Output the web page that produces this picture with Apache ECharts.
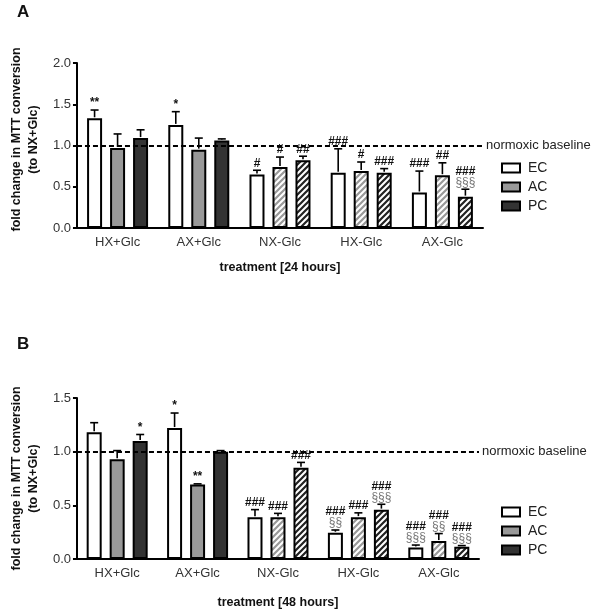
<!DOCTYPE html>
<html><head><meta charset="utf-8">
<script src="https://cdn.jsdelivr.net/npm/echarts@6/dist/echarts.min.js"></script>
<style>html,body{margin:0;padding:0;background:#fff}#c{width:600px;height:614px}</style>
</head><body><div id="c"></div>
<script>
// ---------- data ----------
const categories = ['HX+Glc','AX+Glc','NX-Glc','HX-Glc','AX-Glc'];
const seriesNames = ['EC','AC','PC'];
// Panel A (24 hours)
const A_EC = [1.33, 1.25, 0.65, 0.67, 0.43];
const A_EC_err = [0.10, 0.16, 0.05, 0.29, 0.26];
const A_AC = [0.97, 0.95, 0.74, 0.69, 0.64];
const A_AC_err = [0.17, 0.14, 0.12, 0.11, 0.15];
const A_PC = [1.09, 1.06, 0.82, 0.67, 0.38];
const A_PC_err = [0.10, 0.02, 0.05, 0.05, 0.09];
const A_EC_sig = ['**', '*', '#', '###', '###'];
const A_AC_sig = ['', '', '#', '#', '##'];
const A_PC_sig = ['', '', '##', '###', '###\n§§§'];
// Panel B (48 hours)
const B_EC = [1.18, 1.22, 0.39, 0.245, 0.108];
const B_EC_err = [0.09, 0.14, 0.07, 0.025, 0.022];
const B_AC = [0.93, 0.695, 0.39, 0.39, 0.167];
const B_AC_err = [0.08, 0.005, 0.035, 0.04, 0.07];
const B_PC = [1.10, 1.00, 0.85, 0.46, 0.115];
const B_PC_err = [0.06, 0.01, 0.05, 0.05, 0.01];
const B_EC_sig = ['', '*', '###', '###\n§§', '###\n§§§'];
const B_AC_sig = ['', '**', '###', '###', '###\n§§'];
const B_PC_sig = ['*', '', '###', '###\n§§§', '###\n§§§'];
const yTicksA = {min: 0, max: 2.0, interval: 0.5};
const yTicksB = {min: 0, max: 1.5, interval: 0.5};
const hatchedFrom = 2; // -Glc conditions drawn hatched
const baseline = 1.0;

// ---------- styling ----------
const FONT = 'Liberation Sans, Arial, sans-serif';
const BAR_W = 15, STEP = 23;
const fills = ['#ffffff', '#999999', '#333333'];

function hatch(bg, fg, lw) {
  const c = document.createElement('canvas');
  c.width = 6; c.height = 6;
  const g = c.getContext('2d');
  g.fillStyle = bg; g.fillRect(0, 0, 6, 6);
  g.strokeStyle = fg; g.lineWidth = lw; g.lineCap = 'square';
  g.beginPath();
  g.moveTo(0, 6); g.lineTo(6, 0);
  g.moveTo(-3, 3); g.lineTo(3, -3);
  g.moveTo(3, 9); g.lineTo(9, 3);
  g.stroke();
  return c;
}
const hatchAC = hatch('#ffffff', '#999999', 2.2);
const hatchPC = hatch('#ffffff', '#222222', 2.2);

function barData(vals, k) {
  return vals.map((v, i) => {
    if (i >= hatchedFrom && k > 0) {
      return {value: v, itemStyle: {color: {image: k === 1 ? hatchAC : hatchPC, repeat: 'repeat'}}};
    }
    return v;
  });
}

function errSeries(gridIdx, vals, errs, sigs, k) {
  return {
    type: 'custom', xAxisIndex: gridIdx, yAxisIndex: gridIdx, z: 5, silent: true,
    encode: {x: 0, y: 1},
    data: vals.map((v, i) => [i, v, errs[i]]),
    renderItem: function (params, api) {
      const ci = api.value(0), v = api.value(1), e = api.value(2);
      const p0 = api.coord([ci, v]);
      const p1 = api.coord([ci, v + e]);
      const x = p0[0] + (k - 1) * STEP;
      const ch = [];
      if (e > 0) {
        ch.push({type: 'line', shape: {x1: x, y1: p0[1] - 1, x2: x, y2: p1[1]}, style: {stroke: '#000', lineWidth: 1.6}});
        ch.push({type: 'line', shape: {x1: x - 4, y1: p1[1], x2: x + 4, y2: p1[1]}, style: {stroke: '#000', lineWidth: 1.6}});
      }
      const sig = sigs[params.dataIndex];
      if (sig) {
        const parts = sig.split('\n');
        let y = p1[1] - 1;
        for (let j = parts.length - 1; j >= 0; j--) {
          const isSec = parts[j].indexOf('§') >= 0;
          ch.push({type: 'text', style: {text: parts[j], x: x, y: y, align: 'center', verticalAlign: 'bottom',
            font: (isSec ? '' : 'bold ') + '12px ' + FONT, fill: isSec ? '#777' : '#111'}});
          y -= 11;
        }
      }
      return {type: 'group', children: ch};
    }
  };
}

function barSeries(gridIdx, vals, k, withLine) {
  const s = {
    name: seriesNames[k], type: 'bar', xAxisIndex: gridIdx, yAxisIndex: gridIdx,
    barWidth: BAR_W, barGap: ((STEP - BAR_W) / BAR_W * 100).toFixed(1) + '%',
    itemStyle: {color: fills[k], borderColor: '#000', borderWidth: 2},
    data: barData(vals, k)
  };
  if (withLine) {
    s.markLine = {
      silent: true, symbol: ['none', 'none'], animation: false,
      lineStyle: {type: [5, 3], width: 2, color: '#000'},
      label: {show: true, position: 'end', formatter: 'normoxic baseline', fontSize: 13, color: '#222', fontFamily: FONT, distance: 3},
      data: [{yAxis: baseline}]
    };
  }
  return s;
}

function xAxis(gridIdx, name, gap) {
  return {
    type: 'category', gridIndex: gridIdx, data: categories,
    name: name, nameLocation: 'middle', nameGap: gap,
    nameTextStyle: {fontSize: 12.5, fontWeight: 'bold', color: '#111', fontFamily: FONT},
    axisLine: {lineStyle: {color: '#000', width: 2}},
    axisTick: {alignWithLabel: true, length: 4, lineStyle: {color: '#000', width: 2}},
    axisLabel: {fontSize: 13, color: '#333', margin: 8, fontFamily: FONT}
  };
}
function yAxis(gridIdx, t, shift) {
  return {
    type: 'value', gridIndex: gridIdx, min: t.min, max: t.max, interval: t.interval,
    name: 'fold change in MTT conversion\n(to NX+Glc)', nameLocation: 'middle', nameGap: 27, nameRotate: 90,
    nameTextStyle: {fontSize: 12.5, fontWeight: 'bold', color: '#111', lineHeight: 17, fontFamily: FONT,
      padding: [0, 0, 0, shift]},
    axisLine: {show: true, lineStyle: {color: '#000', width: 2}},
    axisTick: {show: true, length: 4, lineStyle: {color: '#000', width: 2}},
    splitLine: {show: false},
    axisLabel: {fontSize: 13, color: '#333', margin: 6, fontFamily: FONT, formatter: v => v.toFixed(1)}
  };
}

const chart = echarts.init(document.getElementById('c'), null, {renderer: 'canvas'});
chart.setOption({
  animation: false,
  backgroundColor: '#fff',
  title: [
    {text: 'A', left: 17, top: 4, padding: 0, textStyle: {fontSize: 17, fontWeight: 'bold', color: '#111', fontFamily: FONT}},
    {text: 'B', left: 17, top: 336, padding: 0, textStyle: {fontSize: 17, fontWeight: 'bold', color: '#111', fontFamily: FONT}}
  ],
  legend: [
    {data: seriesNames, orient: 'vertical', left: 501, top: 161, padding: 0, itemGap: 5, itemWidth: 18, itemHeight: 9,
      icon: 'rect', selectedMode: false, textStyle: {fontSize: 14, color: '#222', fontFamily: FONT, padding: [0, 0, 0, 3]}},
    {data: seriesNames, orient: 'vertical', left: 501, top: 505, padding: 0, itemGap: 5, itemWidth: 18, itemHeight: 9,
      icon: 'rect', selectedMode: false, textStyle: {fontSize: 14, color: '#222', fontFamily: FONT, padding: [0, 0, 0, 3]}}
  ],
  grid: [
    {left: 68, top: 63, width: 415, height: 165},
    {left: 68, top: 398, width: 411, height: 161}
  ],
  xAxis: [xAxis(0, 'treatment [24 hours]', 33), xAxis(1, 'treatment [48 hours]', 37)],
  yAxis: [yAxis(0, yTicksA, 12), yAxis(1, yTicksB, 0)],
  series: [
    barSeries(0, A_EC, 0, true), barSeries(0, A_AC, 1), barSeries(0, A_PC, 2),
    errSeries(0, A_EC, A_EC_err, A_EC_sig, 0), errSeries(0, A_AC, A_AC_err, A_AC_sig, 1), errSeries(0, A_PC, A_PC_err, A_PC_sig, 2),
    barSeries(1, B_EC, 0, true), barSeries(1, B_AC, 1), barSeries(1, B_PC, 2),
    errSeries(1, B_EC, B_EC_err, B_EC_sig, 0), errSeries(1, B_AC, B_AC_err, B_AC_sig, 1), errSeries(1, B_PC, B_PC_err, B_PC_sig, 2)
  ]
});
</script></body></html>
